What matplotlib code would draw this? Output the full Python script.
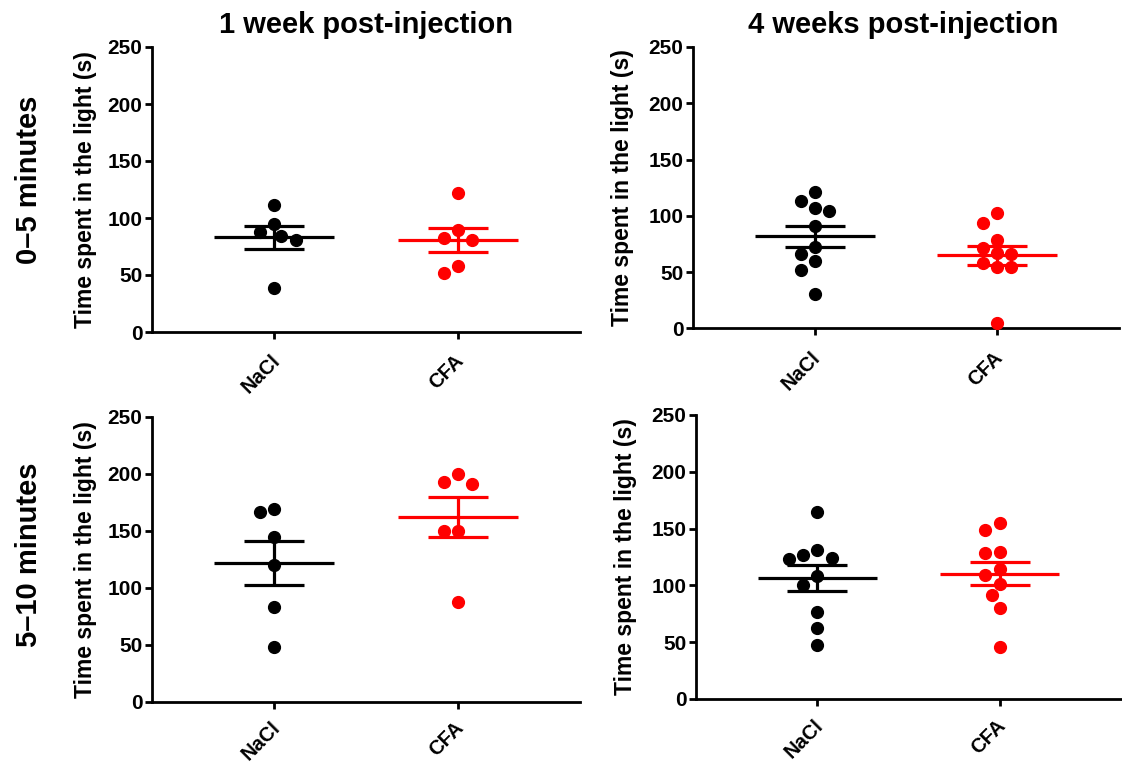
import numpy as np
import matplotlib
matplotlib.use("Agg")
import matplotlib.pyplot as plt
import matplotlib.transforms as mtransforms

plt.rcParams['font.family'] = ['Liberation Sans', 'DejaVu Sans']
plt.rcParams['font.weight'] = 'bold'

# ---------------- data ----------------
groups = ["NaCl", "CFA"]
col_titles = ["1 week post-injection", "4 weeks post-injection"]
row_labels = ["0\u20135 minutes", "5\u201310 minutes"]
ylabel = "Time spent in the light (s)"
yticks = [0, 50, 100, 150, 200, 250]

# 0-5 min, 1 week
w1_0to5_nacl = [111.7, 95.0, 87.7, 84.4, 80.9, 38.8]
w1_0to5_cfa = [122.0, 89.7, 82.6, 80.9, 58.0, 51.5]
# 0-5 min, 4 weeks
w4_0to5_nacl = [120.7, 113.3, 106.9, 104.5, 91.3, 72.1, 66.3, 59.7, 51.5, 30.9]
w4_0to5_cfa = [102.1, 93.3, 78.6, 71.5, 66.8, 65.6, 58.3, 54.4, 54.4, 5.0]
# 5-10 min, 1 week
w1_5to10_nacl = [169.1, 166.2, 144.2, 119.7, 83.0, 48.3]
w1_5to10_cfa = [200.0, 193.0, 191.2, 150.0, 150.0, 87.4]
# 5-10 min, 4 weeks
w4_5to10_nacl = [164.8, 131.6, 126.6, 123.7, 122.8, 108.0, 100.7, 76.5, 62.4, 47.1]
w4_5to10_cfa = [155.1, 148.7, 129.5, 128.1, 114.2, 108.9, 101.6, 91.3, 80.4, 46.2]

colors = ["#000000", "#FF0000"]

W, H = 1122, 762
fig = plt.figure(figsize=(W / 100, H / 100), dpi=100)

def px_rect(x0, x1, ytop, ybot):
    return [x0 / W, 1 - ybot / H, (x1 - x0) / W, (ybot - ytop) / H]

rects = {
    (0, 0): px_rect(152, 580, 47, 332),
    (0, 1): px_rect(693, 1119, 47, 328.3),
    (1, 0): px_rect(152, 580, 417, 701.7),
    (1, 1): px_rect(696, 1121, 415, 699),
}
panel_data = {
    (0, 0): [w1_0to5_nacl, w1_0to5_cfa],
    (0, 1): [w4_0to5_nacl, w4_0to5_cfa],
    (1, 0): [w1_5to10_nacl, w1_5to10_cfa],
    (1, 1): [w4_5to10_nacl, w4_5to10_cfa],
}

MS = 8.5  # marker size (pt)
DIAM_PX = MS * 100 / 72


def swarm_offsets(ax, xc, vals, diam_px, gap=1.2):
    """Simple beeswarm: place points (largest first) at the nearest free offset."""
    vals = np.asarray(vals, float)
    order = np.argsort(-vals)
    placed = []  # (x_px, y_px)
    offs = np.zeros(len(vals))
    x0_px = ax.transData.transform((xc, 0))[0]
    step = diam_px * gap
    cand = [0]
    for k in range(1, 12):
        cand += [-k * 0.5, k * 0.5]
    for i in order:
        y_px = ax.transData.transform((xc, vals[i]))[1]
        for c in cand:
            x_px = x0_px + c * step
            if all((x_px - px) ** 2 + (y_px - py) ** 2 >= (diam_px * 1.05) ** 2
                   for px, py in placed):
                placed.append((x_px, y_px))
                offs[i] = c * step
                break
    scale = ax.transData.transform((1, 0))[0] - ax.transData.transform((0, 0))[0]
    return offs / scale


shift = mtransforms.ScaledTranslation(-4 / 100, 0, fig.dpi_scale_trans)

for (r, c), rect in rects.items():
    ax = fig.add_axes(rect)
    ax.set_xlim(-0.667, 1.667)
    ax.set_ylim(0, 250)
    for s in ["top", "right"]:
        ax.spines[s].set_visible(False)
    for s in ["left", "bottom"]:
        ax.spines[s].set_linewidth(2.0)
    ax.tick_params(axis="both", width=2.0, length=5, labelsize=15)
    ax.tick_params(axis="y", pad=2)
    ax.tick_params(axis="x", pad=9 if r == 0 else 7, labelsize=14.5)
    ax.set_yticks(yticks)
    ax.set_yticklabels([str(t) for t in yticks], fontweight="bold")
    ax.set_xticks(range(len(groups)))
    ax.set_xticklabels(groups, rotation=45, ha="right", va="top",
                       rotation_mode="anchor", fontweight="bold")
    for lbl in ax.get_xticklabels():
        lbl.set_transform(lbl.get_transform() + shift)
    ax.set_ylabel(ylabel, fontsize=16.5, fontweight="bold")
    ax.yaxis.set_label_coords(-0.128 if c == 0 else -0.138, 0.5)

    for gi, (vals, colr) in enumerate(zip(panel_data[(r, c)], colors)):
        v = np.asarray(vals, float)
        m = v.mean()
        sem = v.std(ddof=1) / np.sqrt(len(v))
        ax.hlines(m, gi - 0.328, gi + 0.328, color=colr, lw=2.3, zorder=2)
        ax.errorbar([gi], [m], yerr=[sem], fmt="none", ecolor=colr,
                    elinewidth=2.3, capsize=21.6, capthick=2.3, zorder=2)
        off = swarm_offsets(ax, gi, v, DIAM_PX)
        ax.plot(gi + off, v, "o", color=colr, ms=MS, mec=colr, zorder=3,
                clip_on=False)

# column titles
fig.text(366 / W, 1 - 25 / H, col_titles[0], ha="center", va="center",
         fontsize=21, fontweight="bold")
fig.text(903 / W, 1 - 25 / H, col_titles[1], ha="center", va="center",
         fontsize=21, fontweight="bold")
# row labels
fig.text(29 / W, 1 - 180 / H, row_labels[0], ha="center", va="center",
         rotation=90, fontsize=21, fontweight="bold")
fig.text(29 / W, 1 - 555 / H, row_labels[1], ha="center", va="center",
         rotation=90, fontsize=21, fontweight="bold")

fig.savefig("out.png", dpi=100, facecolor="white")
